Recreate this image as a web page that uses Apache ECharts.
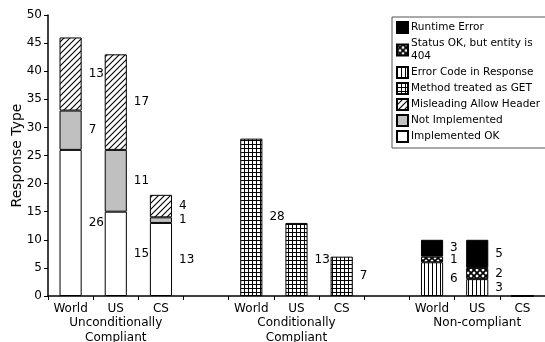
<!DOCTYPE html>
<html>
<head>
<meta charset="utf-8">
<script src="https://cdn.jsdelivr.net/npm/echarts@6/dist/echarts.min.js"></script>
<style>html,body{margin:0;padding:0;background:#fff}#c{width:545px;height:342px}</style>
</head>
<body>
<div id="c"></div>
<script>
var categories = ['World', 'US', 'CS', '', 'World', 'US', 'CS', '', 'World', 'US', 'CS'];
var groupLabels = ['', 'Unconditionally\nCompliant', '', '', '', 'Conditionally\nCompliant', '', '', '', 'Non-compliant', ''];
var implementedOK = [26, 15, 13, '-', '-', '-', '-', '-', '-', '-', '-'];
var notImplemented = [7, 11, 1, '-', '-', '-', '-', '-', '-', '-', '-'];
var misleadingAllow = [13, 17, 4, '-', '-', '-', '-', '-', '-', '-', '-'];
var methodAsGet = ['-', '-', '-', '-', 28, 13, 7, '-', '-', '-', '-'];
var errorCode = ['-', '-', '-', '-', '-', '-', '-', '-', 6, 3, 0];
var statusOK404 = ['-', '-', '-', '-', '-', '-', '-', '-', 1, 2, 0];
var runtimeError = ['-', '-', '-', '-', '-', '-', '-', '-', 3, 5, 0];
var yTicks = {min: 0, max: 50, interval: 5};

function pattern(kind) {
  var s = kind === 'diag' ? 6 : (kind === 'cross' ? 6 : 4);
  var c = document.createElement('canvas');
  c.width = s; c.height = s;
  var g = c.getContext('2d');
  g.fillStyle = '#fff'; g.fillRect(0, 0, s, s);
  g.strokeStyle = '#000'; g.lineWidth = 1;
  if (kind === 'vert') {
    g.beginPath(); g.moveTo(0.5, 0); g.lineTo(0.5, s); g.stroke();
  } else if (kind === 'grid') {
    g.beginPath(); g.moveTo(0.5, 0); g.lineTo(0.5, s); g.moveTo(0, 0.5); g.lineTo(s, 0.5); g.stroke();
  } else if (kind === 'diag') {
    g.lineWidth = 1.1;
    g.beginPath(); g.moveTo(-1, s + 1); g.lineTo(s + 1, -1); g.moveTo(-1, 1); g.lineTo(1, -1); g.moveTo(s - 1, s + 1); g.lineTo(s + 1, s - 1); g.stroke();
  } else if (kind === 'cross') {
    g.lineWidth = 1.8;
    g.beginPath();
    g.moveTo(-1, -1); g.lineTo(s + 1, s + 1);
    g.moveTo(-1, s + 1); g.lineTo(s + 1, -1);
    g.stroke();
  }
  return {image: c, repeat: 'repeat'};
}

var font = 'DejaVu Sans, Verdana, sans-serif';
function mk(name, data, color) {
  return {
    name: name, type: 'bar', stack: 'all', data: data, barWidth: '49%',
    itemStyle: {color: color, borderColor: '#000', borderWidth: 1},
    label: {
      show: true, position: 'right', distance: 7, color: '#000', fontFamily: font, fontSize: 12,
      formatter: function (p) { return p.value ? String(p.value) : ''; }
    },
    emphasis: {disabled: true}
  };
}

var chart = echarts.init(document.getElementById('c'), null, {renderer: 'canvas'});
chart.setOption({
  animation: false,
  backgroundColor: '#fff',
  textStyle: {fontFamily: font},
  grid: {left: 48, right: 0, top: 15, bottom: 46, containLabel: false, outerBoundsMode: 'none'},
  legend: {
    orient: 'vertical', left: 392, top: 17, width: 152,
    data: ['Runtime Error', 'Status OK, but entity is\n404', 'Error Code in Response', 'Method treated as GET', 'Misleading Allow Header', 'Not Implemented', 'Implemented OK'],
    backgroundColor: '#fff', borderColor: '#555', borderWidth: 1,
    padding: [4, 6, 5, 4], itemGap: 3, itemWidth: 11, itemHeight: 11,
    textStyle: {fontFamily: font, fontSize: 10.5, color: '#000', padding: [0, 0, 0, -2], lineHeight: 13},
    icon: 'rect', selectedMode: false
  },
  xAxis: [{
    type: 'category', data: categories, position: 'bottom',
    axisLine: {lineStyle: {color: '#000', width: 1.5}},
    axisTick: {show: true, length: 4, lineStyle: {color: '#000'}},
    axisLabel: {color: '#000', fontSize: 12, fontFamily: font, interval: 0, margin: 7}
  }, {
    type: 'category', data: groupLabels, position: 'bottom', offset: 11,
    axisLine: {show: false}, axisTick: {show: false},
    axisLabel: {color: '#000', fontSize: 12, fontFamily: font, interval: 0, lineHeight: 15, margin: 8}
  }],
  yAxis: {
    type: 'value', min: yTicks.min, max: yTicks.max, interval: yTicks.interval,
    name: 'Response Type', nameLocation: 'middle', nameGap: 24, nameMoveOverlap: false,
    nameTextStyle: {fontSize: 14, color: '#000', fontFamily: font},
    axisLine: {show: true, lineStyle: {color: '#000', width: 1.5}},
    axisTick: {show: true, length: 4, lineStyle: {color: '#000'}},
    axisLabel: {color: '#000', fontSize: 12, fontFamily: font, margin: 6},
    splitLine: {show: false}
  },
  series: [
    mk('Implemented OK', implementedOK, '#fff'),
    mk('Not Implemented', notImplemented, '#c0c0c0'),
    mk('Misleading Allow Header', misleadingAllow, pattern('diag')),
    mk('Method treated as GET', methodAsGet, pattern('grid')),
    mk('Error Code in Response', errorCode, pattern('vert')),
    mk('Status OK, but entity is\n404', statusOK404, pattern('cross')),
    mk('Runtime Error', runtimeError, '#000')
  ]
});
</script>
</body>
</html>
